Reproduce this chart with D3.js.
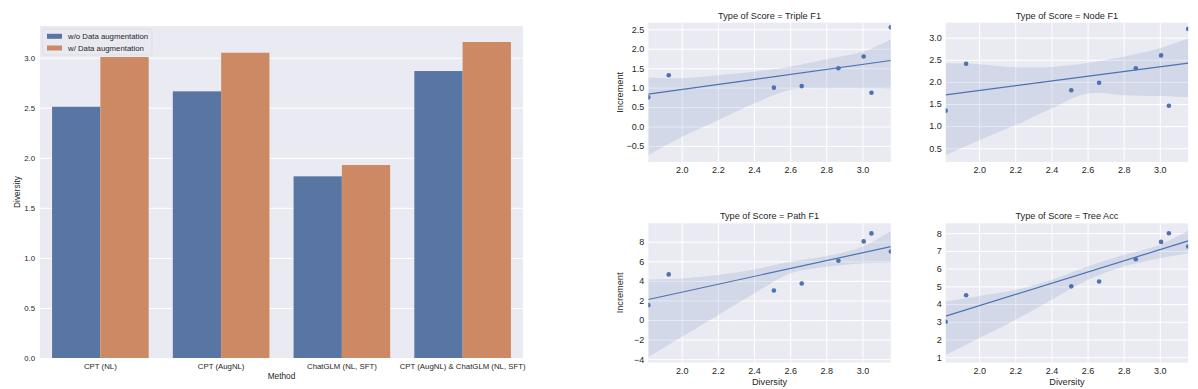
<!DOCTYPE html>
<html>
<head>
<meta charset="utf-8">
<script src="https://cdn.jsdelivr.net/npm/d3@7"></script>
<style>
  body { margin: 0; background: #fff; }
  svg { display: block; font-family: "Liberation Sans", Arial, sans-serif; }
</style>
</head>
<body>
<svg id="chart" width="1198" height="389"></svg>
<script>
// ---- bar chart data ----
var methods = ["CPT (NL)", "CPT (AugNL)", "ChatGLM (NL, SFT)", "CPT (AugNL) & ChatGLM (NL, SFT)"];
var groups = ["w/o Data augmentation", "w/ Data augmentation"];
var withoutAug = [2.51, 2.664, 1.815, 2.867];
var withAug = [3.007, 3.05, 1.928, 3.157];
var barTicks = [0, 0.5, 1, 1.5, 2, 2.5, 3];

// ---- regression panels data ----
var diversity = [1.815, 1.928, 2.51, 2.664, 2.867, 3.007, 3.05, 3.157];
var tripleF1 = [0.75, 1.32, 1.0, 1.04, 1.5, 1.8, 0.87, 2.55];
var nodeF1 = [1.35, 2.41, 1.81, 1.98, 2.31, 2.60, 1.46, 3.2];
var pathF1 = [1.52, 4.66, 3.02, 3.73, 6.05, 8.03, 8.85, 7.0];
var treeAcc = [3.0, 4.5, 5.0, 5.27, 6.53, 7.51, 8.0, 7.25];

// confidence band edges, at these x values
var bandX = [1.815, 2.0, 2.2, 2.4, 2.6, 2.8, 3.0, 3.157];
var tripleLo = [-0.74, -0.27, 0.16, 0.59, 0.94, 0.98, 0.98, 0.96];
var tripleHi = [1.26, 1.24, 1.32, 1.41, 1.54, 1.73, 1.92, 2.24];
var nodeLo = [0.34, 0.68, 1.02, 1.40, 1.74, 1.70, 1.68, 1.65];
var nodeHi = [2.42, 2.40, 2.33, 2.34, 2.43, 2.57, 2.76, 2.98];
var pathLo = [-3.77, -1.73, 0.49, 2.71, 4.76, 5.44, 5.78, 5.85];
var pathHi = [4.14, 4.25, 4.59, 5.17, 5.95, 6.53, 7.49, 9.09];
var treeLo = [1.13, 2.07, 3.10, 4.23, 5.36, 6.12, 6.59, 6.87];
var treeHi = [4.14, 4.46, 4.80, 5.36, 6.12, 6.78, 7.34, 8.15];

var xTicks = [2.0, 2.2, 2.4, 2.6, 2.8, 3.0];
var tripleTicks = [-0.5, 0, 0.5, 1, 1.5, 2, 2.5];
var nodeTicks = [0.5, 1, 1.5, 2, 2.5, 3];
var pathTicks = [-4, -2, 0, 2, 4, 6, 8];
var treeTicks = [1, 2, 3, 4, 5, 6, 7, 8];

var bgColor = "#EAEAF2";
var blue = "#4C72B0";
var barColors = ["#5975A4", "#CC8963"];

var svg = d3.select("#chart");

// =============== left: grouped bar chart ===============
var barArea = {left: 40, right: 523, top: 26, bottom: 358};

var xScale = d3.scaleBand()
    .domain(methods)
    .range([barArea.left, barArea.right])
    .paddingInner(0.2)
    .paddingOuter(0.1);

var xSub = d3.scaleBand()
    .domain(groups)
    .range([0, xScale.bandwidth()]);

var yScale = d3.scaleLinear()
    .domain([0, 3.317])
    .range([barArea.bottom, barArea.top]);

svg.append("rect")
    .attr("x", barArea.left)
    .attr("y", barArea.top)
    .attr("width", barArea.right - barArea.left)
    .attr("height", barArea.bottom - barArea.top)
    .attr("fill", bgColor);

// horizontal grid
svg.append("g")
    .attr("transform", "translate(" + barArea.left + ",0)")
    .call(d3.axisLeft(yScale).tickValues(barTicks).tickSize(-(barArea.right - barArea.left)).tickFormat(""))
    .call(function(g) { g.select(".domain").remove(); })
    .selectAll("line")
    .attr("stroke", "#fff")
    .attr("stroke-width", 1);

var barData = methods.map(function(m, i) {
    return [{m: m, g: groups[0], v: withoutAug[i]}, {m: m, g: groups[1], v: withAug[i]}];
});

svg.append("g")
    .selectAll("g")
    .data(barData)
    .enter()
    .append("g")
    .attr("transform", function(d) { return "translate(" + xScale(d[0].m) + ",0)"; })
    .selectAll("rect")
    .data(function(d) { return d; })
    .enter()
    .append("rect")
    .attr("x", function(d) { return xSub(d.g); })
    .attr("width", xSub.bandwidth())
    .attr("y", function(d) { return yScale(d.v); })
    .attr("height", function(d) { return yScale(0) - yScale(d.v); })
    .attr("fill", function(d, i) { return barColors[i]; });

// y axis labels
svg.append("g")
    .attr("transform", "translate(" + barArea.left + ",0)")
    .call(d3.axisLeft(yScale).tickValues(barTicks).tickSize(0).tickPadding(5).tickFormat(d3.format(".1f")))
    .call(function(g) { g.select(".domain").remove(); })
    .selectAll("text")
    .attr("font-size", 7.8)
    .attr("fill", "#262626");

// x axis labels
svg.append("g")
    .attr("transform", "translate(0," + barArea.bottom + ")")
    .call(d3.axisBottom(xScale).tickSize(0).tickPadding(5))
    .call(function(g) { g.select(".domain").remove(); })
    .selectAll("text")
    .attr("font-size", 7.8)
    .attr("fill", "#262626");

svg.append("text")
    .attr("transform", "translate(20," + ((barArea.top + barArea.bottom) / 2) + ") rotate(-90)")
    .attr("text-anchor", "middle")
    .attr("font-size", 8.3)
    .attr("fill", "#262626")
    .text("Diversity");

svg.append("text")
    .attr("x", (barArea.left + barArea.right) / 2)
    .attr("y", 379)
    .attr("text-anchor", "middle")
    .attr("font-size", 8.3)
    .attr("fill", "#262626")
    .text("Method");

// legend
var legend = svg.append("g").attr("transform", "translate(42.5,29)");
legend.append("rect")
    .attr("width", 109.5)
    .attr("height", 26)
    .attr("rx", 2)
    .attr("fill", "#E9E9F1")
    .attr("stroke", "#D6D6DE")
    .attr("stroke-width", 0.6);
groups.forEach(function(g, i) {
    legend.append("rect")
        .attr("x", 4.5)
        .attr("y", 4.8 + i * 11.7)
        .attr("width", 15)
        .attr("height", 5)
        .attr("fill", barColors[i]);
    legend.append("text")
        .attr("x", 25.5)
        .attr("y", 10.2 + i * 11.7)
        .attr("font-size", 7.8)
        .attr("fill", "#262626")
        .text(g);
});

// =============== right: regression panels ===============
var panels = [
    {title: "Triple F1", y: tripleF1, lo: tripleLo, hi: tripleHi, ticks: tripleTicks, dom: [-0.91, 2.67], fmt: ".1f", col: 0, row: 0},
    {title: "Node F1", y: nodeF1, lo: nodeLo, hi: nodeHi, ticks: nodeTicks, dom: [0.19, 3.34], fmt: ".1f", col: 1, row: 0},
    {title: "Path F1", y: pathF1, lo: pathLo, hi: pathHi, ticks: pathTicks, dom: [-4.34, 9.88], fmt: "d", col: 0, row: 1},
    {title: "Tree Acc", y: treeAcc, lo: treeLo, hi: treeHi, ticks: treeTicks, dom: [0.70, 8.56], fmt: "d", col: 1, row: 1}
];

var colX = [648.3, 945.7];
var rowY = [22.7, 223.3];
var pw = 242.5;
var ph = 139.2;
var xDom = d3.extent(diversity);

panels.forEach(function(p, k) {
    var g = svg.append("g")
        .attr("transform", "translate(" + colX[p.col] + "," + rowY[p.row] + ")");

    var px = d3.scaleLinear().domain(xDom).range([0, pw]);
    var py = d3.scaleLinear().domain(p.dom).range([ph, 0]);

    g.append("clipPath")
        .attr("id", "clip" + k)
        .append("rect")
        .attr("width", pw)
        .attr("height", ph);

    g.append("rect")
        .attr("width", pw)
        .attr("height", ph)
        .attr("fill", bgColor);

    // grid
    g.append("g")
        .call(d3.axisLeft(py).tickValues(p.ticks).tickSize(-pw).tickFormat(""))
        .call(function(s) { s.select(".domain").remove(); })
        .selectAll("line").attr("stroke", "#fff").attr("stroke-width", 1);
    g.append("g")
        .attr("transform", "translate(0," + ph + ")")
        .call(d3.axisBottom(px).tickValues(xTicks).tickSize(-ph).tickFormat(""))
        .call(function(s) { s.select(".domain").remove(); })
        .selectAll("line").attr("stroke", "#fff").attr("stroke-width", 1);

    var plot = g.append("g").attr("clip-path", "url(#clip" + k + ")");

    // confidence band
    var band = d3.area()
        .x(function(d, i) { return px(bandX[i]); })
        .y0(function(d, i) { return py(p.lo[i]); })
        .y1(function(d, i) { return py(p.hi[i]); })
        .curve(d3.curveCatmullRom);
    plot.append("path")
        .datum(bandX)
        .attr("d", band)
        .attr("fill", blue)
        .attr("fill-opacity", 0.15);

    // least squares fit
    var mx = d3.mean(diversity);
    var my = d3.mean(p.y);
    var sxy = d3.sum(diversity, function(x, i) { return (x - mx) * (p.y[i] - my); });
    var sxx = d3.sum(diversity, function(x) { return (x - mx) * (x - mx); });
    var slope = sxy / sxx;
    var fit = xDom.map(function(x) { return [x, my + slope * (x - mx)]; });
    plot.append("path")
        .datum(fit)
        .attr("d", d3.line().x(function(d) { return px(d[0]); }).y(function(d) { return py(d[1]); }))
        .attr("fill", "none")
        .attr("stroke", blue)
        .attr("stroke-width", 1.2);

    // points
    plot.selectAll("circle")
        .data(diversity)
        .enter()
        .append("circle")
        .attr("cx", function(d) { return px(d); })
        .attr("cy", function(d, i) { return py(p.y[i]); })
        .attr("r", 2.3)
        .attr("fill", blue);

    // tick labels
    g.append("g")
        .call(d3.axisLeft(py).tickValues(p.ticks).tickSize(0).tickPadding(4).tickFormat(d3.format(p.fmt)))
        .call(function(s) { s.select(".domain").remove(); })
        .selectAll("text").attr("font-size", 9).attr("fill", "#262626");
    g.append("g")
        .attr("transform", "translate(0," + ph + ")")
        .call(d3.axisBottom(px).tickValues(xTicks).tickSize(0).tickPadding(5).tickFormat(d3.format(".1f")))
        .call(function(s) { s.select(".domain").remove(); })
        .selectAll("text").attr("font-size", 9).attr("fill", "#262626");

    // title
    g.append("text")
        .attr("x", pw / 2)
        .attr("y", -4)
        .attr("text-anchor", "middle")
        .attr("font-size", 9.2)
        .attr("fill", "#262626")
        .text("Type of Score = " + p.title);

    if (p.col == 0) {
        g.append("text")
            .attr("transform", "translate(-25," + (ph / 2) + ") rotate(-90)")
            .attr("text-anchor", "middle")
            .attr("font-size", 9.2)
            .attr("fill", "#262626")
            .text("Increment");
    }
    if (p.row == 1) {
        g.append("text")
            .attr("x", pw / 2)
            .attr("y", ph + 22.5)
            .attr("text-anchor", "middle")
            .attr("font-size", 9.2)
            .attr("fill", "#262626")
            .text("Diversity");
    }
});
</script>
</body>
</html>
